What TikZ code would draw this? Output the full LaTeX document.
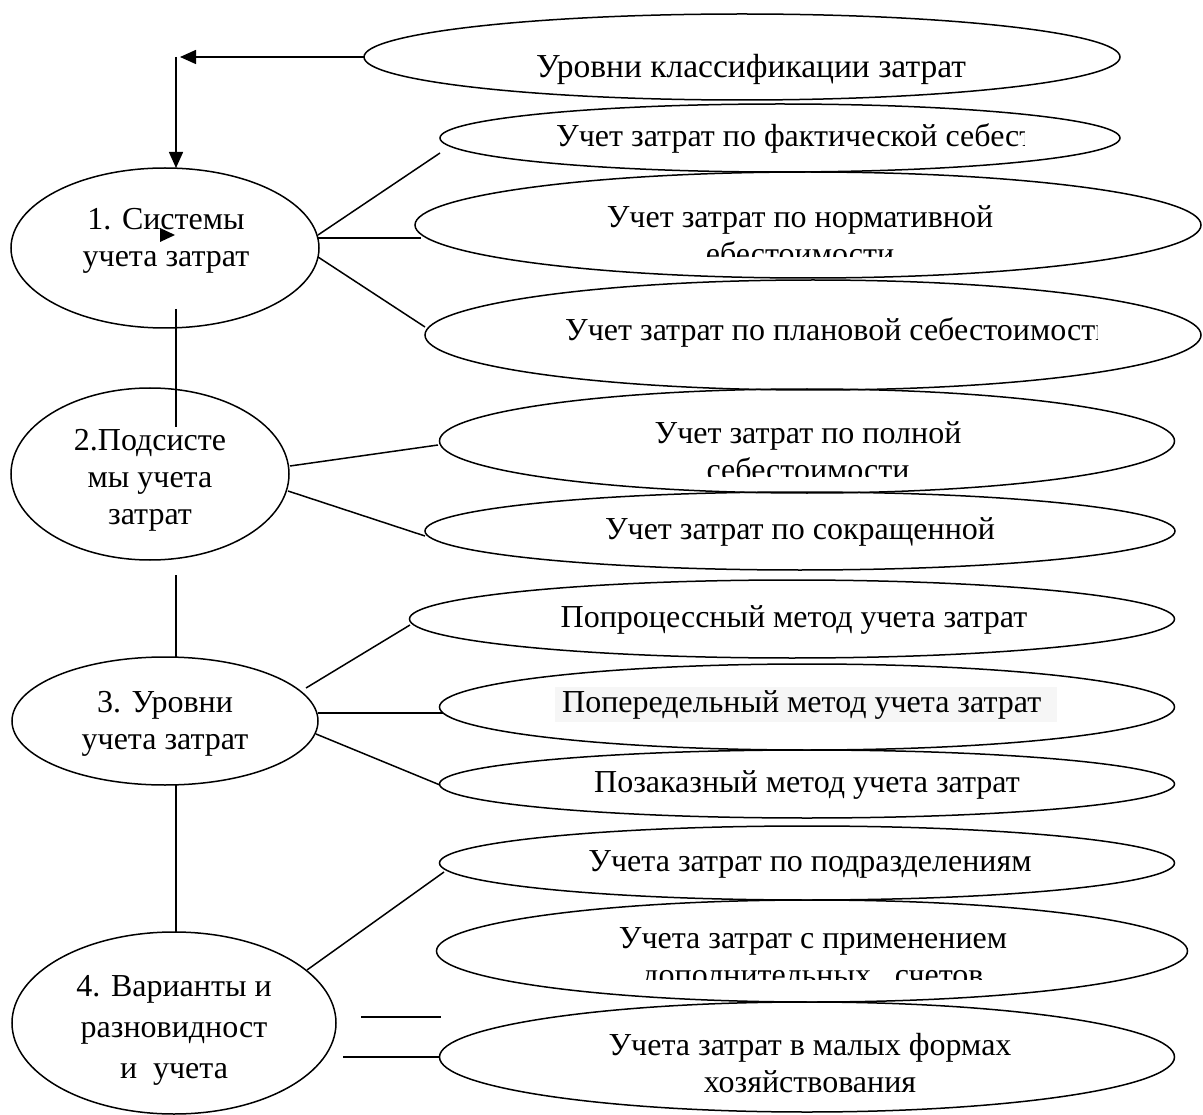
\documentclass[tikz,border=0pt]{standalone}
\usepackage{fontspec}
\setmainfont{Liberation Serif}
\usetikzlibrary{shapes.geometric,arrows.meta}
\definecolor{bgGray}{HTML}{F6F6F6}
\begin{document}
\begin{tikzpicture}[x=1pt,y=-1pt,
  ell/.style={draw, ellipse, line width=1.5pt, inner sep=0pt, outer sep=0pt},
  lbl/.style={font=\fontsize{32}{37}\selectfont, inner sep=0pt, align=center},
  conn/.style={line width=1.5pt},
  arr/.style={line width=1.5pt, -{Triangle[length=16pt,width=14pt]}}]
\useasboundingbox (0,0) rectangle (1203,1115);
% ellipses
\node[ell, minimum width=756pt, minimum height=86pt]  (T)  at (742,57)   {};
\node[ell, minimum width=680pt, minimum height=68pt]  (F)  at (780,138)  {};
\node[ell, minimum width=786pt, minimum height=106pt] (N)  at (808,225)  {};
\node[ell, minimum width=776pt, minimum height=110pt] (P)  at (813,335)  {};
\node[ell, minimum width=735pt, minimum height=104pt] (PL) at (807,441)  {};
\node[ell, minimum width=750pt, minimum height=78pt]  (SK) at (800,531)  {};
\node[ell, minimum width=765pt, minimum height=78pt]  (PP) at (792,619)  {};
\node[ell, minimum width=735pt, minimum height=86pt]  (PD) at (807,707)  {};
\node[ell, minimum width=735pt, minimum height=68pt]  (PZ) at (807,784)  {};
\node[ell, minimum width=735pt, minimum height=74pt]  (PR) at (807,863)  {};
\node[ell, minimum width=751pt, minimum height=102pt] (SP) at (812,951)  {};
\node[ell, minimum width=735pt, minimum height=110pt] (MF) at (807,1057) {};
\node[ell, minimum width=308pt, minimum height=160pt] (S1) at (165,248)  {};
\node[ell, minimum width=278pt, minimum height=172pt] (S2) at (150,474)  {};
\node[ell, minimum width=306pt, minimum height=128pt] (S3) at (165,721)  {};
\node[ell, minimum width=324pt, minimum height=182pt] (S4) at (174,1023) {};
% texts
\node[lbl, font=\fontsize{33.5}{38}\selectfont] (tT) at (751,69) {Уровни классификации затрат};
\begin{scope}
  \clip (440,100) rectangle (1024,175);
  \node[lbl, anchor=west] (tF) at (556,138) {Учет затрат по фактической себест};
\end{scope}
\begin{scope}
  \clip (415,180) rectangle (1200,257);
  \node[lbl] (tN) at (800,235.5) {Учет затрат по нормативной\\ебестоимости};
\end{scope}
\begin{scope}
  \clip (430,290) rectangle (1097,380);
  \node[lbl, anchor=west] (tP) at (565,332) {Учет затрат по плановой себестоимости};
\end{scope}
\begin{scope}
  \clip (440,395) rectangle (1170,476);
  \node[lbl] (tPL) at (808,451.5) {Учет затрат по полной\\себестоимости};
\end{scope}
\node[lbl] (tSK) at (800,532) {Учет затрат по сокращенной};
\node[lbl] (tPP) at (794,620) {Попроцессный метод учета затрат};
\fill[bgGray] (555,687) rectangle (1057,722);
\node[lbl, anchor=west] (tPD) at (562,705) {Попередельный метод учета затрат};
\node[lbl] (tPZ) at (807,785) {Позаказный метод учета затрат};
\node[lbl] (tPR) at (810,864) {Учета затрат по подразделениям};
\begin{scope}
  \clip (440,905) rectangle (1185,979);
  \node[lbl] (tSP) at (813,960) {Учета затрат с применением\\дополнительных\ \ \ счетов};
\end{scope}
\node[lbl] (tMF) at (810,1063) {Учета затрат в малых формах\\хозяйствования};
\node[lbl] (tS1) at (166,240.5) {1. Системы\\учета затрат};
\node[lbl] (tS2) at (150,480) {2.Подсисте\\мы учета\\затрат};
\node[lbl] (tS3) at (165,724) {3. Уровни\\учета затрат};
\node[lbl, font=\fontsize{32}{41}\selectfont] (tS4) at (174,1030) {4. Варианты и\\разновидност\\и\ \ учета};
% arrows at top
\coordinate (tipH) at (180,57);
\coordinate (corner) at (176,57);
\draw[arr] (T.west) -- (tipH);
\draw[arr] (corner) -- (corner |- S1.north);
\fill (160,228) -- (175,235) -- (160,242) -- cycle;
% connector end points
\coordinate (a1) at (318,235);  \coordinate (b1) at (440,153);
\coordinate (a2) at (318,238);  \coordinate (b2) at (421,238);
\coordinate (a3) at (318,257);  \coordinate (b3) at (425,327);
\coordinate (v1a) at (176,309); \coordinate (v1b) at (176,427);
\coordinate (a4) at (290,466);  \coordinate (b4) at (438,445);
\coordinate (a5) at (288,491);  \coordinate (b5) at (425,536);
\coordinate (v2a) at (176,575); \coordinate (v2b) at (176,658);
\coordinate (a6) at (306,688);  \coordinate (b6) at (410,625);
\coordinate (a7) at (318,713);  \coordinate (b7) at (443,713);
\coordinate (a8) at (316,734);  \coordinate (b8) at (440,785);
\coordinate (v3a) at (176,785); \coordinate (v3b) at (176,932);
\coordinate (a9) at (307,970);  \coordinate (b9) at (444,872);
\coordinate (a10) at (361,1017); \coordinate (b10) at (441,1017);
\coordinate (a11) at (343,1057); \coordinate (b11) at (439,1057);
\foreach \i in {1,...,11} {\draw[conn] (a\i) -- (b\i);}
\draw[conn] (v1a) -- (v1b);
\draw[conn] (v2a) -- (v2b);
\draw[conn] (v3a) -- (v3b);
\end{tikzpicture}
\end{document}
